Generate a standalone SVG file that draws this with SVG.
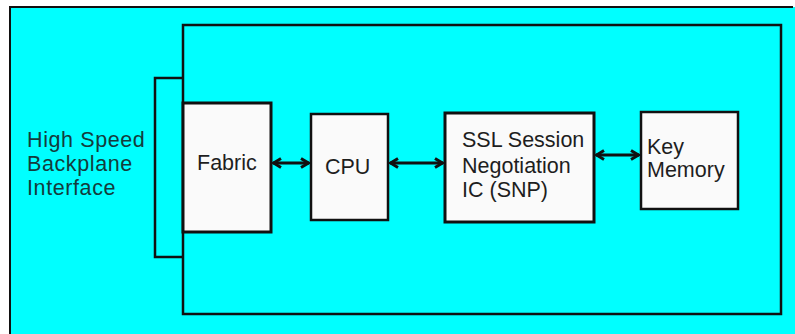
<svg xmlns="http://www.w3.org/2000/svg" width="795" height="334" viewBox="0 0 795 334">
<defs>
<style>
.box{fill:#fafafa;stroke:#111;stroke-width:3}
.lbl{font-family:"Liberation Sans",Arial,sans-serif;font-size:21.5px;fill:#1e1e1e}
.side{letter-spacing:0.6px;fill:#143c3c}
.con{stroke:#111;stroke-width:2.8;fill:none;marker-start:url(#ah);marker-end:url(#ah)}
</style>
<marker id="ah" viewBox="0 0 12 12" refX="10.5" refY="6" markerWidth="12" markerHeight="12" markerUnits="userSpaceOnUse" orient="auto-start-reverse">
<path d="M2.5,1.5 L10,6 L2.5,10.5" fill="none" stroke="#111" stroke-width="3"/>
</marker>
</defs>
<rect x="0" y="0" width="795" height="334" fill="#fff"/>
<rect x="10" y="7" width="785" height="327" fill="#00ffff"/>
<path d="M10,334 V7 H793" fill="none" stroke="#111" stroke-width="2"/>
<g id="system">
<rect x="183" y="25" width="598" height="289" fill="none" stroke="#111" stroke-width="2.5"/>
</g>
<g id="backplane">
<path d="M183,78 H155 V257 H183" fill="none" stroke="#111" stroke-width="2.5"/>
<text class="lbl side" x="27" y="147">High Speed</text>
<text class="lbl side" x="27" y="171">Backplane</text>
<text class="lbl side" x="27" y="195">Interface</text>
</g>
<g id="fabric">
<rect class="box" x="183" y="103" width="88" height="129"/>
<text class="lbl" x="197" y="170">Fabric</text>
</g>
<g id="cpu">
<rect class="box" x="311" y="114" width="77" height="106" style="stroke-width:2.5"/>
<text class="lbl" x="325" y="174">CPU</text>
</g>
<g id="snp">
<rect class="box" x="445" y="113" width="149" height="109"/>
<text class="lbl" x="462" y="147">SSL Session</text>
<text class="lbl" x="462" y="173">Negotiation</text>
<text class="lbl" x="462" y="197">IC (SNP)</text>
</g>
<g id="keymem">
<rect class="box" x="641" y="112" width="97" height="97" style="stroke-width:2.5"/>
<text class="lbl" x="647" y="154">Key</text>
<text class="lbl" x="647" y="177">Memory</text>
</g>
<g id="connectors">
<line class="con" x1="273" y1="163" x2="309" y2="163"/>
<line class="con" x1="390" y1="163" x2="443" y2="163"/>
<line class="con" x1="596" y1="155" x2="639" y2="155"/>
</g>
</svg>
